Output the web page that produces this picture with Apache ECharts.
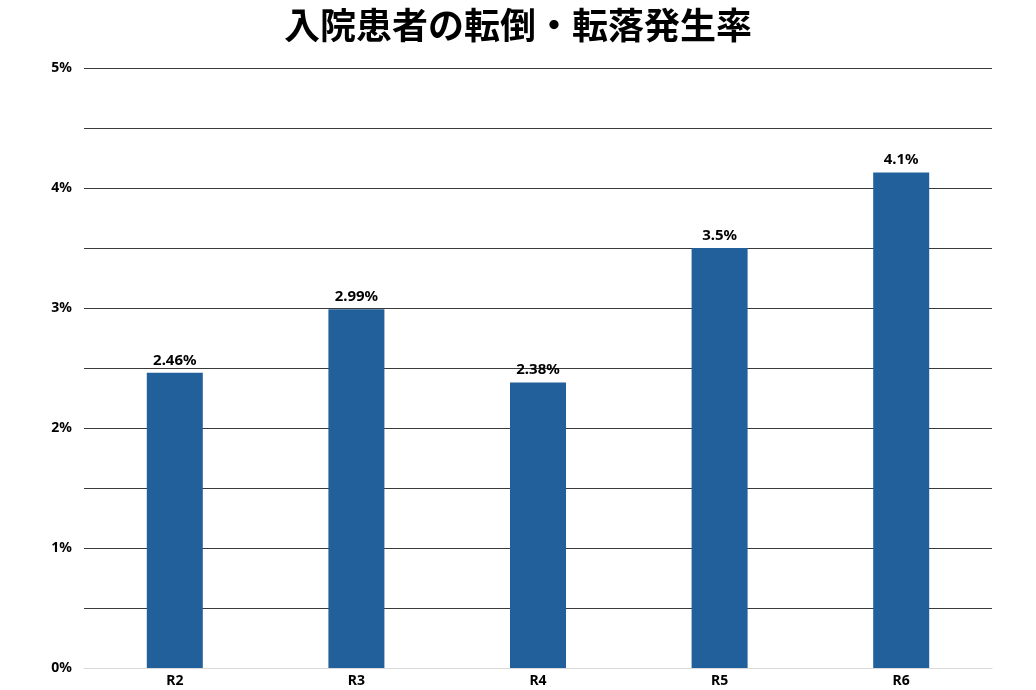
<!DOCTYPE html>
<html><head><meta charset="utf-8">
<script src="https://cdn.jsdelivr.net/npm/echarts@6/dist/echarts.min.js"></script>
<style>html,body{margin:0;padding:0;background:#fff}#c{width:1036px;height:690px}</style>
</head><body><div id="c"></div>
<script>
const categories = ['R2','R3','R4','R5','R6'];
const values = [2.46, 2.99, 2.38, 3.5, 4.13];
const labels = ['2.46%','2.99%','2.38%','3.5%','4.1%'];
const chart = echarts.init(document.getElementById('c'));
chart.setOption({
  animation:false,
  title:{text:'入院患者の転倒・転落発生率',left:'center',top:2,textStyle:{fontFamily:'Noto Sans CJK JP',fontWeight:'bold',fontSize:36,color:'#000'}},
  grid:{left:84,right:44,top:68,bottom:22},
  xAxis:{type:'category',data:categories,axisTick:{show:false},
    axisLine:{lineStyle:{color:'#d9d9d9'}},
    axisLabel:{color:'#000',fontWeight:'bold',fontSize:14,margin:6,fontFamily:'Noto Sans'}},
  yAxis:{type:'value',min:0,max:5,interval:0.5,
    axisLabel:{color:'#000',fontWeight:'bold',fontSize:14,fontFamily:'Noto Sans',margin:12,
      formatter:v=>Number.isInteger(v)?v+'%':''},
    splitLine:{lineStyle:{color:'#3a3a3a',width:1}}},
  series:[{type:'bar',data:values,barWidth:56,itemStyle:{color:'#21609b'},
    label:{show:true,position:'top',distance:5,color:'#000',fontWeight:'bold',fontSize:15,fontFamily:'Noto Sans',
      formatter:p=>labels[p.dataIndex]}}]
});
</script></body></html>
